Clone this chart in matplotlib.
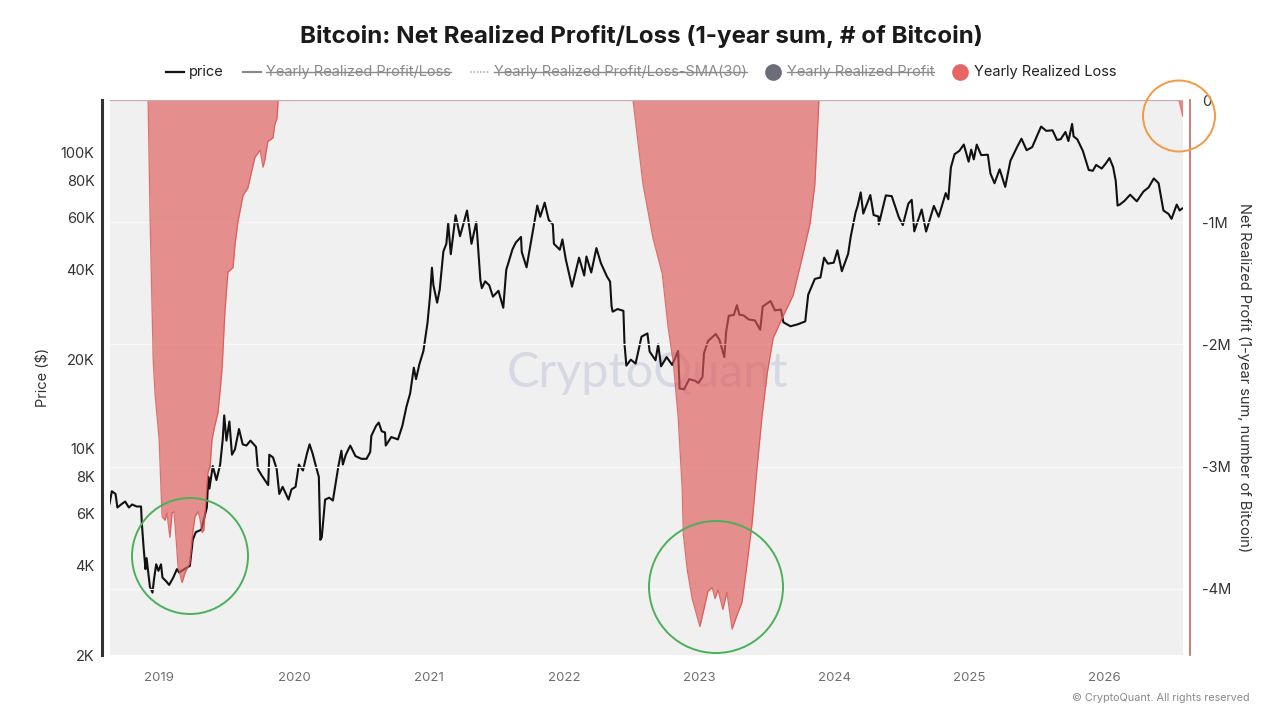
import matplotlib
matplotlib.use("Agg")
import matplotlib.pyplot as plt
from matplotlib.patches import Ellipse
from matplotlib.lines import Line2D
from matplotlib.transforms import IdentityTransform
import pandas as pd
import numpy as np

plt.rcParams['font.family'] = ['Inter', 'DejaVu Sans']

# ---------------- data ----------------
price_dates = [
 "2018-08-20","2018-08-26","2018-09-05","2018-09-10","2018-09-20","2018-10-01","2018-10-11","2018-10-20","2018-11-01","2018-11-13",
 "2018-11-15","2018-11-20","2018-11-25","2018-11-28","2018-12-07","2018-12-14","2018-12-18","2018-12-24","2018-12-30",
 "2019-01-06","2019-01-10","2019-01-20","2019-01-28","2019-02-08","2019-02-18","2019-02-24","2019-03-10","2019-03-25",
 "2019-04-02","2019-04-10","2019-04-25","2019-05-10","2019-05-14","2019-05-17","2019-05-26","2019-06-05","2019-06-15",
 "2019-06-22","2019-06-26","2019-07-02","2019-07-10","2019-07-17","2019-07-25","2019-08-05","2019-08-15","2019-08-25",
 "2019-09-05","2019-09-20","2019-09-25","2019-10-05","2019-10-23","2019-10-26","2019-11-05","2019-11-15","2019-11-22",
 "2019-12-01","2019-12-17","2019-12-25",
 "2020-01-05","2020-01-14","2020-01-25","2020-02-05","2020-02-12","2020-02-20","2020-03-01","2020-03-08","2020-03-12",
 "2020-03-16","2020-03-25","2020-04-05","2020-04-15","2020-04-30","2020-05-08","2020-05-12","2020-05-20","2020-06-01",
 "2020-06-15","2020-07-01","2020-07-15","2020-07-25","2020-07-28","2020-08-10","2020-08-17","2020-08-25","2020-09-03",
 "2020-09-05","2020-09-20","2020-10-08","2020-10-20","2020-10-31","2020-11-10","2020-11-20","2020-11-26","2020-12-05",
 "2020-12-16","2020-12-27",
 "2021-01-03","2021-01-08","2021-01-12","2021-01-22","2021-01-29","2021-02-08","2021-02-16","2021-02-21","2021-02-28",
 "2021-03-13","2021-03-25","2021-04-13","2021-04-25","2021-05-08","2021-05-12","2021-05-19","2021-05-23","2021-06-01",
 "2021-06-12","2021-06-22","2021-07-07","2021-07-20","2021-07-28","2021-08-14","2021-08-23","2021-09-06","2021-09-08",
 "2021-09-21","2021-10-05","2021-10-20","2021-10-28","2021-11-09","2021-11-20","2021-12-01","2021-12-04","2021-12-20",
 "2021-12-27",
 "2022-01-05","2022-01-22","2022-02-10","2022-02-24","2022-03-02","2022-03-15","2022-03-29","2022-04-10","2022-04-26",
 "2022-05-05","2022-05-09","2022-05-12","2022-05-25","2022-06-10","2022-06-13","2022-06-18","2022-06-30","2022-07-13",
 "2022-07-29","2022-08-14","2022-08-20","2022-09-05","2022-09-12","2022-09-20","2022-10-05","2022-10-20","2022-11-05",
 "2022-11-09","2022-11-21","2022-12-05","2022-12-20","2022-12-30",
 "2023-01-10","2023-01-14","2023-01-25","2023-02-15","2023-02-25","2023-03-10","2023-03-15","2023-03-22","2023-04-05",
 "2023-04-13","2023-04-20","2023-05-01","2023-05-15","2023-06-01","2023-06-15","2023-06-22","2023-07-13","2023-07-25",
 "2023-08-10","2023-08-17","2023-09-05","2023-09-25","2023-10-15","2023-10-23","2023-11-10","2023-11-25","2023-12-05",
 "2023-12-15","2023-12-31",
 "2024-01-10","2024-01-22","2024-02-08","2024-02-15","2024-02-28","2024-03-05","2024-03-13","2024-03-20","2024-04-08",
 "2024-04-17","2024-04-30","2024-05-01","2024-05-20","2024-06-05","2024-06-24","2024-07-05","2024-07-20","2024-07-29",
 "2024-08-05","2024-08-25","2024-09-06","2024-09-27","2024-10-10","2024-10-29","2024-11-05","2024-11-12","2024-11-22",
 "2024-12-05","2024-12-17","2024-12-30",
 "2025-01-06","2025-01-13","2025-01-21","2025-02-02","2025-02-20","2025-02-27","2025-03-10","2025-03-24","2025-04-08",
 "2025-04-22","2025-05-10","2025-05-22","2025-06-05","2025-06-20","2025-07-14","2025-07-28","2025-08-14","2025-08-26",
 "2025-09-05","2025-09-18","2025-09-26","2025-10-06","2025-10-10","2025-10-20","2025-11-04","2025-11-20","2025-12-01",
 "2025-12-10","2025-12-25",
 "2026-01-05","2026-01-15","2026-01-25","2026-02-01","2026-02-06","2026-02-12","2026-02-25","2026-03-12","2026-03-30",
 "2026-04-17","2026-05-01","2026-05-15","2026-05-28","2026-06-10","2026-06-24","2026-07-02","2026-07-16","2026-07-24",
 "2026-07-31",
]
price_values = [
 6500,7150,7000,6300,6450,6600,6300,6450,6350,6350,
 5600,4600,3900,4250,3400,3250,3600,4050,3850,
 4050,3650,3550,3450,3650,3900,3800,3900,4000,
 4900,5200,5300,6300,8000,7300,8700,7800,8800,
 10700,12900,10600,12300,9500,9900,11600,10300,10200,
 10600,10100,8500,8100,7500,9500,9300,8500,7000,
 7400,6700,7250,
 7400,8800,8400,9600,10300,9600,8600,8000,4900,
 5000,6700,6800,6650,8700,9800,8800,9500,10200,
 9400,9200,9200,9700,11000,11900,12200,11400,11300,
 10200,10900,10700,11900,13800,15300,18700,17100,19200,
 21300,26500,
 32800,40700,35500,31000,34300,46200,49000,57500,45200,
 61200,52000,63500,49000,58000,49500,37000,34700,36600,
 35500,32500,34000,29800,40000,47000,49500,51700,46000,
 40800,51500,66000,60500,67500,59000,57000,49000,46800,
 50700,
 43500,35100,44000,38300,44400,39200,47400,42200,38100,
 36500,30100,28900,29500,29100,22500,19000,19900,19300,
 23800,24400,21200,19800,22400,18900,20300,19100,21300,
 15900,15800,17100,16900,16600,
 17400,20900,23000,24300,23200,20300,24700,28000,28200,
 30400,28200,28100,27200,27000,25100,30100,31400,29200,
 29400,26600,25800,26200,26800,33000,37300,37700,44000,
 42000,42300,
 46600,39600,45300,51800,62400,66000,73100,62000,71600,
 61300,60600,57000,71400,71000,60300,56700,67000,69000,
 54000,64000,53900,65800,60500,72700,69300,88700,98400,
 101000,106100,92800,
 102000,94500,106000,97700,98000,84700,78500,87500,76300,
 93400,104000,111000,101500,104000,122000,118000,118500,110000,
 110500,117000,109000,124500,113000,110500,101000,87000,86500,
 90500,88000,
 91500,95500,89000,80000,66000,66500,68500,71800,68200,
 73600,76000,81500,78500,63500,61800,59500,66500,63500,
 64500,
]

loss_dates = [
 "2018-12-02","2018-12-08","2018-12-16","2018-12-21","2019-01-01","2019-01-06","2019-01-09","2019-01-17","2019-01-22",
 "2019-01-30","2019-02-05","2019-02-10","2019-02-16","2019-02-21","2019-03-04","2019-03-12","2019-03-25","2019-04-02",
 "2019-04-08","2019-04-16","2019-04-21","2019-04-27","2019-05-02","2019-05-08","2019-05-13","2019-05-19","2019-05-24",
 "2019-06-01","2019-06-09","2019-06-14","2019-06-20","2019-06-28","2019-07-06","2019-07-20","2019-07-25","2019-08-02",
 "2019-08-16","2019-08-29","2019-09-17","2019-10-01","2019-10-09","2019-10-14","2019-10-22","2019-11-05","2019-11-10",
 "2019-11-16","2019-11-19",
 "2022-07-06","2022-08-02","2022-08-29","2022-09-23","2022-10-09","2022-10-23","2022-11-05","2022-11-16","2022-11-19",
 "2022-11-30","2022-12-13","2023-01-03","2023-01-25","2023-02-05","2023-02-13","2023-02-21","2023-03-06","2023-03-17",
 "2023-03-31","2023-04-13","2023-04-27","2023-05-10","2023-05-24","2023-06-06","2023-06-20","2023-07-04","2023-07-20",
 "2023-08-16","2023-09-12","2023-10-06","2023-10-28","2023-11-10","2023-11-21",
 "2026-07-22","2026-07-27","2026-08-01",
]
loss_values_m = [
 0,-1.05,-2.14,-2.41,-2.78,-3.19,-3.41,-3.44,-3.38,
 -3.58,-3.38,-3.37,-3.60,-3.82,-3.95,-3.87,-3.79,-3.54,
 -3.41,-3.37,-3.42,-3.54,-3.52,-3.25,-3.05,-3.00,-2.78,
 -2.66,-2.56,-2.41,-2.21,-1.73,-1.41,-1.37,-1.19,-1.00,
 -0.78,-0.72,-0.47,-0.41,-0.55,-0.49,-0.34,-0.31,-0.20,
 -0.15,0,
 0,-0.69,-1.13,-1.42,-1.86,-2.15,-2.59,-3.18,-3.55,
 -3.85,-4.08,-4.31,-4.02,-3.99,-4.08,-4.01,-4.17,-4.03,
 -4.33,-4.22,-4.11,-3.81,-3.47,-3.03,-2.59,-2.24,-1.95,
 -1.77,-1.60,-1.30,-1.01,-0.69,0,
 0,-0.06,-0.13,
]

price_ticks = [2000, 4000, 6000, 8000, 10000, 20000, 40000, 60000, 80000, 100000]
price_tick_labels = ["2K", "4K", "6K", "8K", "10K", "20K", "40K", "60K", "80K", "100K"]
loss_ticks = [0, -1e6, -2e6, -3e6, -4e6]
loss_tick_labels = ["0", "-1M", "-2M", "-3M", "-4M"]
years = [2019, 2020, 2021, 2022, 2023, 2024, 2025, 2026]

# ---------------- figure ----------------
W, H = 1280, 720
fig = plt.figure(figsize=(12.8, 7.2), dpi=100)
fig.patch.set_facecolor("white")

def fx(px):
    return px / W

def fy(py):
    return 1 - py / H

ax = fig.add_axes([fx(110), fy(655), fx(1183) - fx(110), fy(100) - fy(655)])
ax.set_facecolor("#f0f0f0")

pdates = pd.to_datetime(price_dates)
ax.plot(pdates, price_values, color="#111111", lw=1.5, zorder=3)
ax.set_yscale("log")
ax.set_ylim(2000, 150000)
ax.set_xlim(pd.Timestamp("2018-08-21"), pd.Timestamp("2026-08-02"))
ax.set_yticks(price_ticks)
ax.set_yticklabels(price_tick_labels)
ax.yaxis.set_minor_locator(matplotlib.ticker.NullLocator())
ax.set_xticks([pd.Timestamp(f"{y}-01-01") for y in years])
ax.set_xticklabels([str(y) for y in years])
ax.tick_params(axis="y", length=0, pad=5, labelsize=10.5, labelcolor="#333333")
ax.tick_params(axis="x", length=0, pad=12, labelsize=9.5, labelcolor="#6f6f6f")
for s in ["top", "right", "bottom"]:
    ax.spines[s].set_visible(False)
ax.spines["left"].set_position(("outward", 6))
ax.spines["left"].set_color("#333333")
ax.spines["left"].set_linewidth(2.2)
ax.set_ylabel("Price ($)", fontsize=10.5, color="#333333", labelpad=8)

# watermark
ax.text(0.501, 0.508, "CryptoQuant", transform=ax.transAxes, ha="center", va="center",
        fontsize=35, color="#d6d8e3", zorder=1, family=["Lato", "DejaVu Sans"])

ax2 = ax.twinx()
ldates = pd.to_datetime(loss_dates)
lvals = np.array(loss_values_m) * 1e6
segs = [(0, 47), (47, 80), (80, len(lvals))]
for a, b in segs:
    ax2.fill_between(ldates[a:b], lvals[a:b], 0, color="#e05a5a", alpha=0.65, lw=0, zorder=2)
    ax2.plot(ldates[a:b], lvals[a:b], color="#d9534f", lw=0.9, alpha=0.8, zorder=3)
ax2.set_ylim(-4.542e6, 0)
ax2.set_yticks(loss_ticks)
ax2.set_yticklabels(loss_tick_labels)
ax2.tick_params(axis="y", length=0, pad=9, labelsize=10.5, labelcolor="#333333")
ax2.grid(axis="y", color="#f9f9f9", lw=0.9, zorder=0)
for s in ["top", "left", "bottom"]:
    ax2.spines[s].set_visible(False)
ax2.spines["right"].set_position(("outward", 5))
ax2.spines["right"].set_color("#c46a66")
ax2.spines["right"].set_linewidth(1.2)
ax2.axhline(0, color="#c9a9a9", lw=0.9, zorder=4)
ax2.set_ylabel("Net Realized Profit (1-year sum, number of Bitcoin)", rotation=270,
               va="bottom", fontsize=10.5, color="#333333", labelpad=4)
ax2.set_xlim(ax.get_xlim())

# title
fig.text(fx(641), fy(37), "Bitcoin: Net Realized Profit/Loss (1-year sum, # of Bitcoin)",
         ha="center", va="center", fontsize=17.4, fontweight="bold", color="#1a1a1a")

# copyright
fig.text(fx(1250), fy(698), "© CryptoQuant. All rights reserved", ha="right", va="center",
         fontsize=7.8, color="#8a8a8a")

# annotation ellipses (figure pixel coordinates)
for cx, cy, w, h, col in [(190, 556, 116, 116, "#4caf5a"), (716, 587, 134, 132, "#4caf5a"),
                          (1179, 116, 72, 71, "#f29a45")]:
    e = Ellipse((fx(cx), fy(cy)), w / W, h / H, transform=fig.transFigure, fill=False,
                edgecolor=col, lw=1.4, zorder=10)
    fig.add_artist(e)

# ---------------- custom legend ----------------
fig.canvas.draw()
renderer = fig.canvas.get_renderer()
legend_items = [
    ("line", "#111111", "price", False),
    ("line", "#8a8a8a", "Yearly Realized Profit/Loss", True),
    ("dotted", "#b5b5b5", "Yearly Realized Profit/Loss-SMA(30)", True),
    ("dot", "#6b6d78", "Yearly Realized Profit", True),
    ("dot", "#e86565", "Yearly Realized Loss", False),
]
ly = H - 72
lfs = 10.5
widths = []
for kind, col, label, struck in legend_items:
    t = fig.text(0, 0, label, fontsize=lfs)
    bb = t.get_window_extent(renderer)
    widths.append(bb.width)
    t.remove()
marker_w = {"line": 18, "dotted": 19, "dot": 14}
gap_mt = {"line": 5, "dotted": 5, "dot": 7}
gap_items = 19
total = sum(marker_w[k] + gap_mt[k] + w for (k, _, _, _), w in zip(legend_items, widths)) + gap_items * (len(legend_items) - 1)
x = 641.5 - total / 2
for (kind, col, label, struck), w in zip(legend_items, widths):
    mw = marker_w[kind]
    if kind == "line":
        fig.add_artist(Line2D([x, x + mw], [ly, ly], color=col, lw=1.6, transform=IdentityTransform()))
    elif kind == "dotted":
        fig.add_artist(Line2D([x, x + mw], [ly, ly], color=col, lw=1.2, ls=(0, (1, 1)), transform=IdentityTransform()))
    else:
        fig.add_artist(Line2D([x + mw / 2], [ly], marker="o", ms=11, color=col, lw=0, transform=IdentityTransform()))
    x += mw + gap_mt[kind]
    tcol = "#8a8a8a" if struck else "#222222"
    fig.text(fx(x), fy(72), label, fontsize=lfs, color=tcol, ha="left", va="center")
    if struck:
        fig.add_artist(Line2D([x, x + w], [ly + 0.5, ly + 0.5], color="#8a8a8a", lw=1.0,
                              transform=IdentityTransform()))
    x += w + gap_items

fig.savefig("out.png", dpi=100)
